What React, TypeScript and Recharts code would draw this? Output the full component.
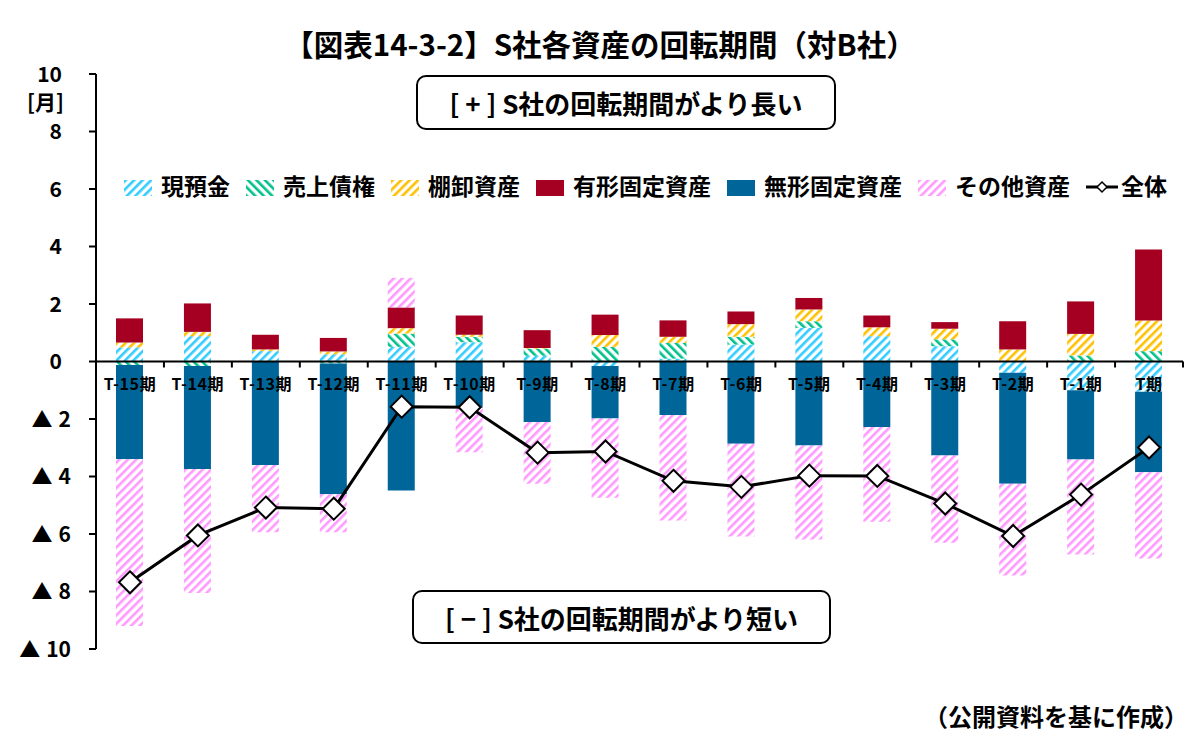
import React from "react";
import {
  ComposedChart,
  Bar,
  Line,
  XAxis,
  YAxis,
  Legend,
  ReferenceLine,
} from "recharts";

const periods = [
  "T-15期", "T-14期", "T-13期", "T-12期", "T-11期", "T-10期", "T-9期", "T-8期",
  "T-7期", "T-6期", "T-5期", "T-4期", "T-3期", "T-2期", "T-1期", "T期",
];
const cash = [0.49, 0.88, 0.36, 0.25, 0.51, 0.67, 0.2, -0.16, 0.1, 0.59, 1.17, 0.88, 0.53, -0.39, -1.0, -1.05];
const receivables = [-0.12, -0.16, 0, -0.07, 0.46, 0.19, 0.25, 0.51, 0.55, 0.27, 0.23, 0, 0.24, 0, 0.21, 0.36];
const inventory = [0.17, 0.15, 0.06, 0.1, 0.19, 0.07, 0.02, 0.41, 0.21, 0.44, 0.41, 0.31, 0.37, 0.42, 0.75, 1.07];
const tangible = [0.84, 0.99, 0.51, 0.47, 0.72, 0.67, 0.62, 0.71, 0.57, 0.44, 0.4, 0.41, 0.23, 0.98, 1.13, 2.47];
const intangible = [-3.28, -3.58, -3.6, -4.55, -4.49, -1.61, -2.1, -1.82, -1.86, -2.86, -2.92, -2.28, -3.27, -3.86, -2.41, -2.8];
const others = [-5.8, -4.31, -2.34, -1.32, 1.03, -1.55, -2.15, -2.76, -3.67, -3.23, -3.27, -3.29, -3.03, -3.19, -3.3, -3.0];
const total = [-7.68, -6.05, -5.08, -5.12, -1.57, -1.59, -3.17, -3.13, -4.15, -4.36, -3.97, -3.98, -4.94, -6.07, -4.63, -2.99];

const yTicks = [-10, -8, -6, -4, -2, 0, 2, 4, 6, 8, 10];

const seriesNames = ["現預金", "売上債権", "棚卸資産", "有形固定資産", "無形固定資産", "その他資産"];
const seriesKeys = ["cash", "receivables", "inventory", "tangible", "intangible", "others"];
const seriesFills = ["url(#pCash)", "url(#pRecv)", "url(#pInv)", "#A50021", "#006699", "url(#pOther)"];
const totalName = "全体";

const data = periods.map((p, i) => ({
  period: p,
  cash: cash[i],
  receivables: receivables[i],
  inventory: inventory[i],
  tangible: tangible[i],
  intangible: intangible[i],
  others: others[i],
  total: total[i],
}));

const FONT = '"Noto Sans CJK JP", "Noto Sans", sans-serif';
const W = 1200;
const H = 749;
const PLOT_LEFT = 96;
const PLOT_RIGHT = 1183;
const PLOT_TOP = 74;
const PLOT_BOTTOM = 649;
const ZERO_Y = (PLOT_TOP + PLOT_BOTTOM) / 2;
const BAND = (PLOT_RIGHT - PLOT_LEFT) / periods.length;

const Patterns = () => (
  <defs>
    <pattern id="pCash" patternUnits="userSpaceOnUse" width="6" height="6" patternTransform="rotate(45)">
      <rect width="6" height="6" fill="#fff" />
      <rect x="0" y="0" width="2.6" height="6" fill="#33CCFF" />
    </pattern>
    <pattern id="pRecv" patternUnits="userSpaceOnUse" width="6" height="6" patternTransform="rotate(-45)">
      <rect width="6" height="6" fill="#fff" />
      <rect x="0" y="0" width="2.6" height="6" fill="#00C08B" />
    </pattern>
    <pattern id="pInv" patternUnits="userSpaceOnUse" width="6" height="6" patternTransform="rotate(45)">
      <rect width="6" height="6" fill="#fff" />
      <rect x="0" y="0" width="2.6" height="6" fill="#FFC000" />
    </pattern>
    <pattern id="pOther" patternUnits="userSpaceOnUse" width="6" height="6" patternTransform="rotate(45)">
      <rect width="6" height="6" fill="#fff" />
      <rect x="0" y="0" width="2.6" height="6" fill="#FF99FF" />
    </pattern>
  </defs>
);

const XTick = (props: any) => {
  const { x, payload, index } = props;
  const left = x - BAND / 2;
  const right = x + BAND / 2;
  return (
    <g>
      <line x1={left} x2={left} y1={ZERO_Y} y2={ZERO_Y + 6} stroke="#000" strokeWidth={2} />
      {index === periods.length - 1 && (
        <line x1={right} x2={right} y1={ZERO_Y} y2={ZERO_Y + 6} stroke="#000" strokeWidth={2} />
      )}
      <text
        x={x}
        y={ZERO_Y + 28}
        textAnchor="middle"
        fontFamily={FONT}
        fontSize={16}
        fontWeight={700}
        letterSpacing={0.6}
        fill="#000"
      >
        {payload.value}
      </text>
    </g>
  );
};

const YTick = (props: any) => {
  const { x, y, payload } = props;
  const v = payload.value;
  if (v < 0) {
    return (
      <text x={x - 16} y={y} dy="0.36em" textAnchor="end" fontFamily={FONT} fontSize={21} fontWeight={700} fill="#000">
        <tspan>▲</tspan>
        <tspan dx={6}>{String(-v)}</tspan>
      </text>
    );
  }
  return (
    <text x={x - 25} y={y} dy="0.36em" textAnchor="end" fontFamily={FONT} fontSize={21} fontWeight={700} fill="#000">
      {String(v)}
    </text>
  );
};

const Diamond = (props: any) => {
  const { cx, cy } = props;
  if (cx == null || cy == null) return null;
  const r = 11;
  return (
    <path
      d={`M${cx},${cy - r} L${cx + r},${cy} L${cx},${cy + r} L${cx - r},${cy} Z`}
      fill="#fff"
      stroke="#000"
      strokeWidth={2}
    />
  );
};

const LegendContent = () => (
  <div style={{ display: "flex", alignItems: "center", fontFamily: FONT, fontWeight: 700, fontSize: 23, color: "#000", whiteSpace: "nowrap" }}>
    {seriesNames.map((name, i) => (
      <div key={seriesKeys[i]} style={{ display: "flex", alignItems: "center", marginRight: 16 }}>
        <svg width={28} height={16} style={{ marginRight: 9, marginTop: 6 }}>
          <rect x={0} y={0} width={28} height={16} fill={seriesFills[i]} />
        </svg>
        <span style={{ lineHeight: "28px" }}>{name}</span>
      </div>
    ))}
    <div style={{ display: "flex", alignItems: "center" }}>
      <svg width={32} height={16} style={{ marginRight: 3, marginTop: 4 }}>
        <line x1={0} x2={32} y1={8} y2={8} stroke="#000" strokeWidth={3} />
        <path d="M16,3 L21,8 L16,13 L11,8 Z" fill="#fff" stroke="#000" strokeWidth={1.5} />
      </svg>
      <span style={{ lineHeight: "28px" }}>{totalName}</span>
    </div>
  </div>
);

const boxStyle: React.CSSProperties = {
  position: "absolute",
  border: "2px solid #000",
  borderRadius: 10,
  background: "#fff",
  boxSizing: "border-box",
  display: "flex",
  alignItems: "center",
  justifyContent: "center",
  fontFamily: FONT,
  fontWeight: 700,
  fontSize: 26,
  color: "#000",
  whiteSpace: "pre",
};

export default function App() {
  return (
    <div style={{ position: "absolute", left: 0, top: 0, width: W, height: H, background: "#fff" }}>
      <ComposedChart
        width={W}
        height={H}
        data={data}
        stackOffset="sign"
        margin={{ top: PLOT_TOP, right: W - PLOT_RIGHT, bottom: H - PLOT_BOTTOM - 30, left: 0 }}
        barSize={27}
      >
        <Patterns />
        <XAxis
          dataKey="period"
          axisLine={false}
          tickLine={false}
          interval={0}
          height={30}
          tick={<XTick />}
        />
        <YAxis
          width={PLOT_LEFT}
          domain={[-10, 10]}
          ticks={yTicks}
          interval={0}
          tickSize={7}
          tickMargin={2}
          axisLine={{ stroke: "#000", strokeWidth: 2 }}
          tickLine={{ stroke: "#000", strokeWidth: 2 }}
          tick={<YTick />}
        />
        <Legend
          layout="horizontal"
          verticalAlign="middle"
          align="center"
          content={<LegendContent />}
          wrapperStyle={{ position: "absolute", top: 171, left: 124, width: 1075, height: 30 }}
        />
        {seriesKeys.map((k, i) => (
          <Bar key={k} dataKey={k} name={seriesNames[i]} stackId="s" fill={seriesFills[i]} isAnimationActive={false} />
        ))}
        <ReferenceLine y={0} stroke="#000" strokeWidth={2} />
        <Line
          dataKey="total"
          name={totalName}
          stroke="#000"
          strokeWidth={3}
          dot={<Diamond />}
          activeDot={false}
          isAnimationActive={false}
        />
      </ComposedChart>

      <div style={{ position: "absolute", left: 0, width: W, top: 24, textAlign: "center", fontFamily: FONT, fontWeight: 700, fontSize: 29.5, lineHeight: "38px", color: "#000", paddingLeft: 0, boxSizing: "border-box" }}>
        【図表14-3-2】S社各資産の回転期間（対B社）
      </div>
      <div style={{ position: "absolute", left: 0, width: 64, top: 86, textAlign: "right", fontFamily: FONT, fontWeight: 700, fontSize: 21, lineHeight: "30px", color: "#000" }}>
        [月]
      </div>
      <div style={{ ...boxStyle, left: 416, top: 75, width: 420, height: 55 }}>[ + ] S社の回転期間がより長い</div>
      <div style={{ ...boxStyle, left: 412, top: 590, width: 419, height: 54 }}>[ − ] S社の回転期間がより短い</div>
      <div style={{ position: "absolute", right: 12, top: 701, fontFamily: FONT, fontWeight: 700, fontSize: 24, lineHeight: "30px", color: "#000" }}>
        （公開資料を基に作成）
      </div>
    </div>
  );
}
